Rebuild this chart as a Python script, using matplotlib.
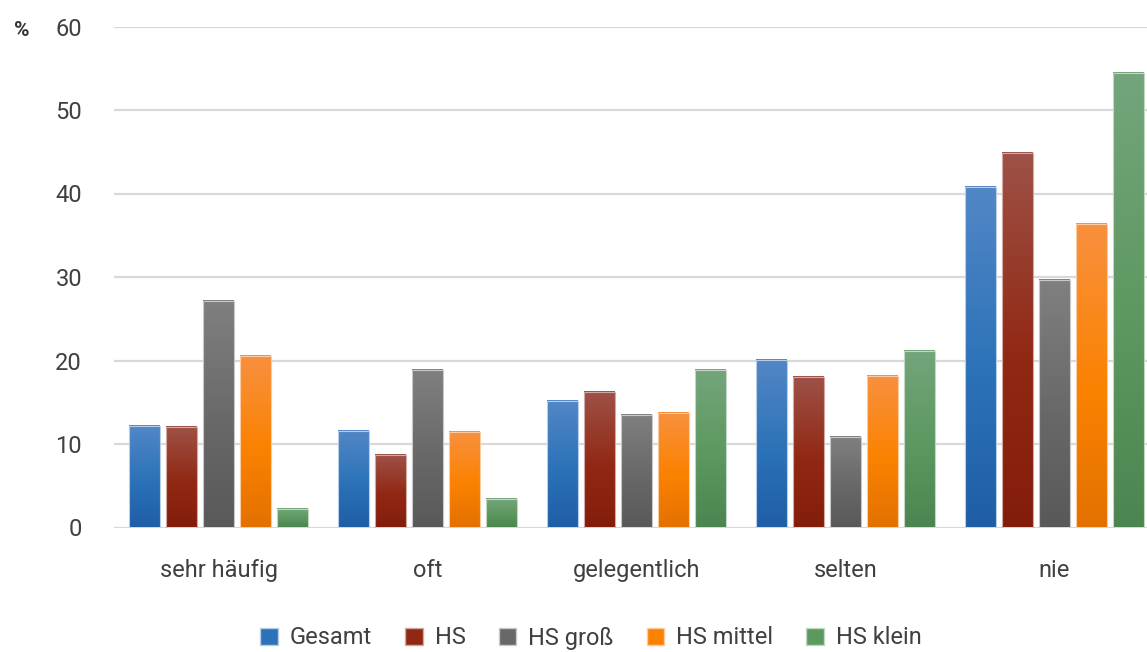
import numpy as np
import matplotlib
matplotlib.use("Agg")
import matplotlib.pyplot as plt
from matplotlib.colors import LinearSegmentedColormap
from matplotlib.patches import Patch

plt.rcParams['font.family'] = ['Roboto', 'DejaVu Sans']

# Häufigkeit je Kategorie (in %)
kategorien = ['sehr häufig', 'oft', 'gelegentlich', 'selten', 'nie']
serien = ['Gesamt', 'HS', 'HS groß', 'HS mittel', 'HS klein']
gesamt = [12.2, 11.5, 15.2, 20.1, 40.8]
hs = [12.0, 8.7, 16.2, 18.0, 44.8]
hs_gross = [27.1, 18.9, 13.5, 10.8, 29.6]
hs_mittel = [20.5, 11.4, 13.7, 18.2, 36.4]
hs_klein = [2.2, 3.4, 18.9, 21.1, 54.4]
werte = [gesamt, hs, hs_gross, hs_mittel, hs_klein]

# Farbverlauf je Serie: oben hell, Mitte Grundfarbe, unten dunkel
verlauf = [
    ('#5287c6', '#2b72b8', '#1f5ea6'),
    ('#9e5248', '#912813', '#831d0b'),
    ('#808080', '#686868', '#595959'),
    ('#f8903f', '#fb8200', '#e37100'),
    ('#74a57c', '#5c985f', '#4c8550'),
]
rand = ['#b7cde8', '#d3aaa3', '#c8c8c8', '#fccba0', '#c2d8c4']

fig = plt.figure(figsize=(11.47, 6.52), dpi=100)
ax = fig.add_axes([114 / 1147, 124.5 / 652, 1045 / 1147, 501 / 652])

x = np.arange(len(kategorien))
breite = 0.144
abstand = 0.177

for i, (name, daten) in enumerate(zip(serien, werte)):
    pos = x + (i - 2) * abstand
    bars = ax.bar(pos, daten, width=breite, color='none', edgecolor=rand[i],
                  linewidth=0.8, zorder=4)
    cmap = LinearSegmentedColormap.from_list(
        name, [(0, verlauf[i][2]), (0.45, verlauf[i][1]), (1, verlauf[i][0])])
    grad = np.linspace(0, 1, 256).reshape(-1, 1)
    for r in bars:
        x0, w, h = r.get_x(), r.get_width(), r.get_height()
        ax.imshow(grad, extent=[x0, x0 + w, 0, h], origin='lower',
                  cmap=cmap, aspect='auto', zorder=3)

ax.set_xlim(-0.5, 4.5)
ax.set_ylim(0, 60)
ax.set_yticks(range(0, 61, 10))
ax.set_xticks(x)
ax.set_xticklabels(kategorien)
ax.yaxis.grid(True, color='#d9d9d9', linewidth=1.6, zorder=0)
ax.set_axisbelow(True)
for s in ax.spines.values():
    s.set_visible(False)
ax.axhline(0, color='#d9d9d9', linewidth=2, zorder=2)
ax.tick_params(axis='both', length=0, labelsize=17, colors='#404040')
ax.tick_params(axis='y', pad=23)
ax.tick_params(axis='x', pad=23)

fig.text(22 / 1147, 1 - 30 / 652, '%', fontsize=15, fontweight='bold',
         color='#333333', ha='center', va='center')

handles = [Patch(facecolor=verlauf[i][1], edgecolor=rand[i], label=serien[i])
           for i in range(len(serien))]
fig.legend(handles=handles, loc='center', bbox_to_anchor=(591 / 1147, 1 - 638 / 652),
           ncol=5, frameon=False, fontsize=17, handlelength=0.75, handleheight=0.75,
           handletextpad=0.5, columnspacing=1.4, labelcolor='#404040')

fig.savefig('out.png', dpi=100, facecolor='white')
